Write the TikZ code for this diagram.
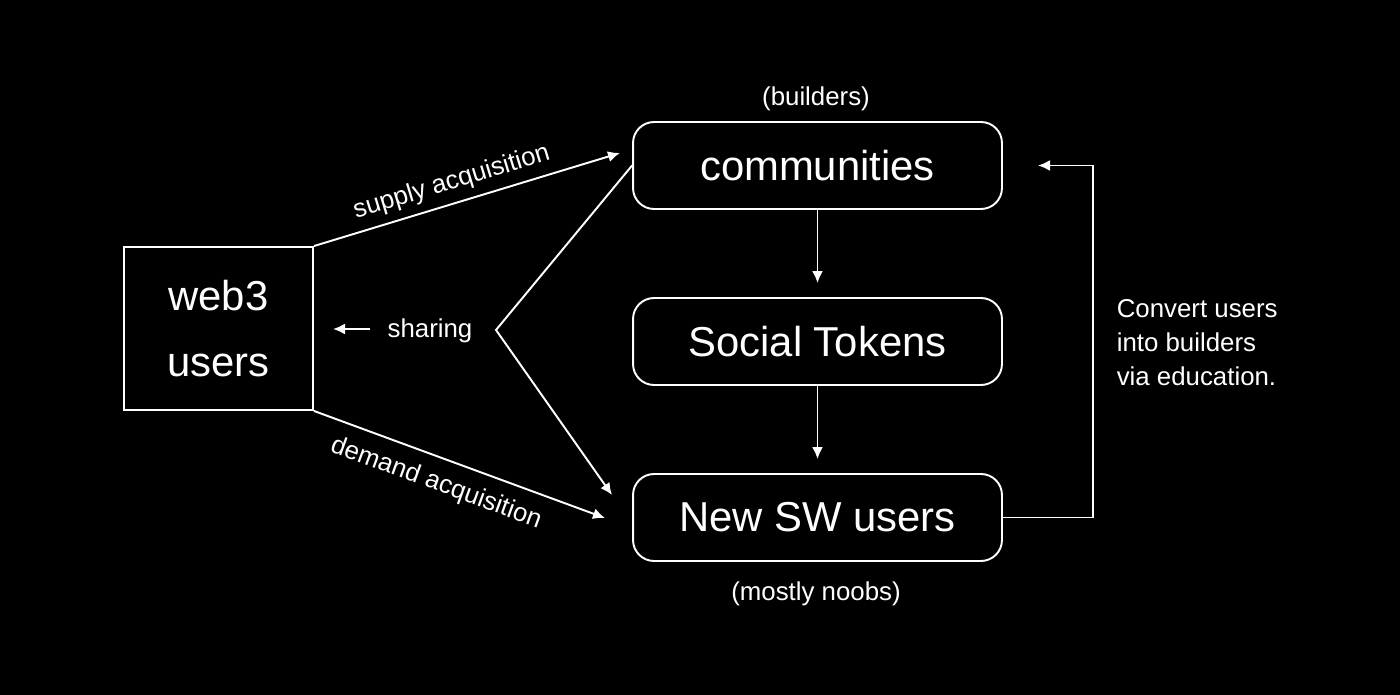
\documentclass[tikz,border=0pt]{standalone}
\usepackage{fontspec}
\setmainfont{Liberation Sans}
\usetikzlibrary{calc, positioning, arrows.meta}

\tikzset{
	arr/.style = {-{Latex[length=2.4mm, width=2.2mm]}},
	bigtext/.style = {font=\fontsize{23.8}{37.4}\selectfont},
	smalltext/.style = {font=\fontsize{14.7}{19.3}\selectfont},
	roundbox/.style = {draw, rounded corners=0.42cm, minimum width=7.38cm, minimum height=1.74cm, bigtext},
}

\begin{document}
\begin{tikzpicture}[x=0.02cm, y=-0.02cm, white, line width=1.1pt]
		\fill[black] (0,0) rectangle (1400,695);
		\useasboundingbox (0,0) rectangle (1400,695);
		
		\node[draw, minimum width=3.78cm, minimum height=3.26cm, align=center, bigtext] (web3) at (218.5,328.5) {web3\\users};
		
		\node[roundbox] (comm) at (817.5,165.5) {communities};
		\node[roundbox] (tokens) at (817.5,341.5) {Social Tokens};
		\node[roundbox] (newsw) at (817.5,517.5) {New SW users};
		
		\node[smalltext] (builders) at (816,99) {(builders)};
		\node[smalltext] (noobs) at (816,594) {(mostly noobs)};
		\node[smalltext] (share) at (430,331) {sharing};
		\node[smalltext, align=left, anchor=west] (convert) at (1110,343) {Convert users\\into builders\\via education.};
		
		\coordinate (supend) at (620,153);
		\coordinate (demend) at (605,518);
		\coordinate (vtx) at (496,330);
		\coordinate (vend) at (612,495);
		\coordinate (shfrom) at (370,329);
		\coordinate (shto) at (333,329);
		\coordinate (loopa) at (1093,517.5);
		\coordinate (loopb) at (1093,165.5);
		\coordinate (loopend) at (1038,165.5);
		
		% acquisition
		\draw[arr] (web3.north east) -- (supend) node [smalltext, sloped, above=1pt, pos=0.47] {supply acquisition};
		\draw[arr] (web3.south east) -- (demend) node [smalltext, sloped, below=4pt, pos=0.45] {demand acquisition};
		
		% sharing
		\draw[arr] (shfrom) -- (shto);
		\draw[arr] (comm.west) -- (vtx) -- (vend);
		
		% main column
		\draw[arr, shorten >=0.28cm] (comm) -- (tokens);
		\draw[arr, shorten >=0.28cm] (tokens) -- (newsw);
		
		% back to communities
		\draw[arr] (newsw.east) -- (loopa) -- (loopb) -- (loopend);
	\end{tikzpicture}
\end{document}
